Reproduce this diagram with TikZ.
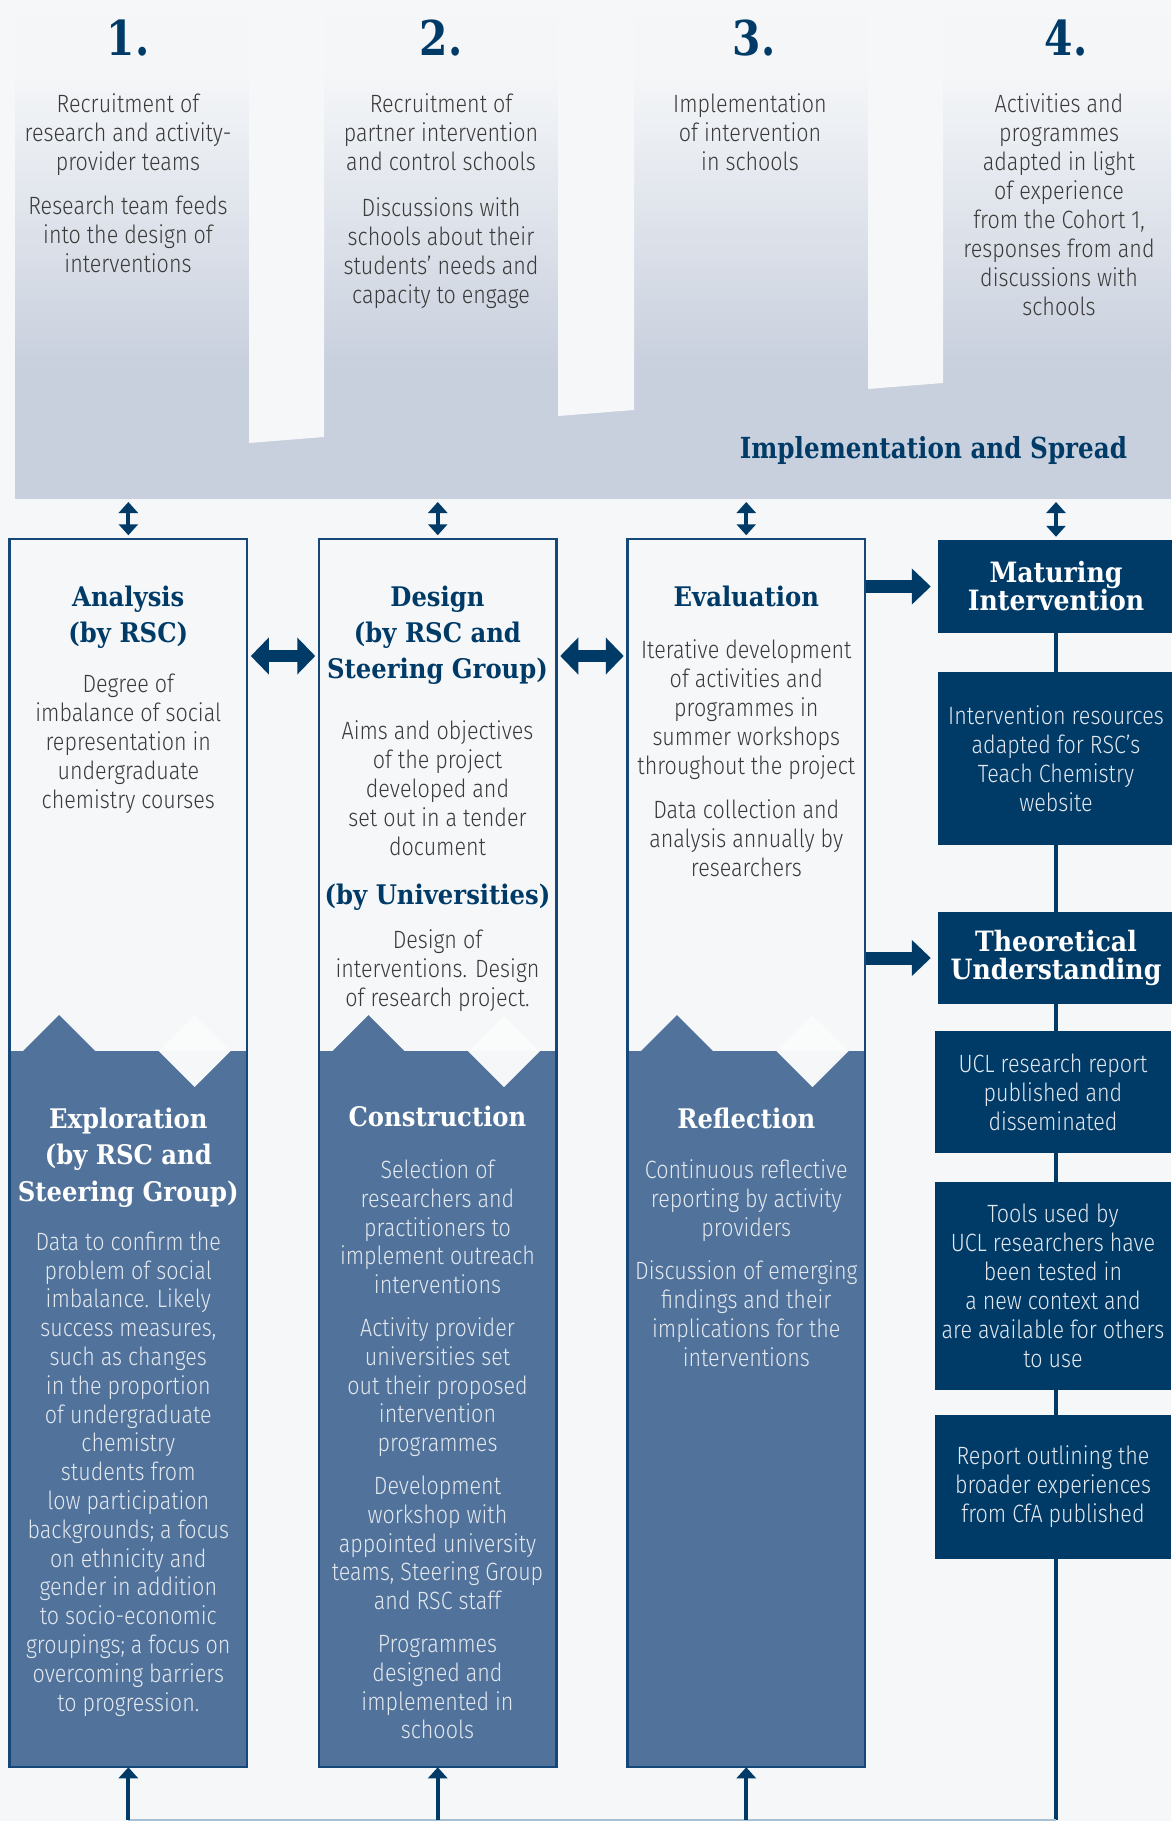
\documentclass[tikz,border=0pt]{standalone}
\usepackage{fontspec}
\usetikzlibrary{arrows.meta}
\newfontfamily\bodyf{Fira Sans Light}[FakeStretch=0.86]
\newfontfamily\headf{DejaVu Serif}[FakeStretch=0.9]
\newfontfamily\numf{DejaVu Serif}[FakeStretch=0.85]
\definecolor{bg}{HTML}{F5F7F9}
\definecolor{bgtop}{HTML}{F4F6F8}
\definecolor{band}{HTML}{C8CFDD}
\definecolor{navy}{HTML}{003B68}
\definecolor{border}{HTML}{154879}
\definecolor{midblue}{HTML}{51729A}
\definecolor{txt}{HTML}{3A3A3A}
\definecolor{lighttxt}{HTML}{E2E8EF}
\definecolor{botc}{HTML}{A9C1D5}
\definecolor{diam}{HTML}{FAFBFB}
\begin{document}
\begin{tikzpicture}[x=1pt,y=-1pt,
  bodytxt/.style={font=\bodyf\fontsize{25}{29}\selectfont, align=center, inner sep=0pt, text=txt, anchor=north},
  headtxt/.style={font=\headf\bfseries\fontsize{27}{36}\selectfont, align=center, inner sep=0pt, text=navy, anchor=north},
  colbox/.style={draw=border, line width=2.5pt, minimum width=237.5pt, minimum height=1228pt, inner sep=0pt},
  darkbox/.style={fill=navy, minimum width=236pt, inner sep=0pt, align=center, text=lighttxt, font=\bodyf\fontsize{25}{29}\selectfont},
  darkhead/.style={fill=navy, minimum width=236pt, inner sep=0pt, align=center, text=white, font=\headf\bfseries\fontsize{28}{28}\selectfont},
  smallarr/.style={draw=navy, line width=4pt, {Triangle[width=19pt,length=11pt]}-{Triangle[width=19pt,length=11pt]}},
  fatdbl/.style={draw=navy, line width=12.5pt, {Triangle[width=36pt,length=18pt]}-{Triangle[width=36pt,length=18pt]}},
  fatright/.style={draw=navy, line width=13pt, -{Triangle[width=35pt,length=19pt]}},
  uparr/.style={draw=navy, line width=4pt, -{Triangle[width=19pt,length=11pt]}},
  vline/.style={draw=navy, line width=4pt},
  botline/.style={draw=botc, line width=2pt}
]
\useasboundingbox (0,0) rectangle (1171,1821);
\fill[bg] (0,0) rectangle (1171,1821);
% top band
\fill[bgtop] (15,17) rectangle (1171,76);
\shade[top color=bgtop, bottom color=band] (15,75) rectangle (1171,371);
\fill[band] (15,370) rectangle (1171,499);
\fill[bg] (249,16) -- (324,16) -- (324,437) -- (249,443) -- cycle;
\fill[bg] (558,16) -- (634,16) -- (634,410) -- (558,416) -- cycle;
\fill[bg] (868,16) -- (943,16) -- (943,383) -- (868,389) -- cycle;
\coordinate (bandbot) at (0,499);
\coordinate (bot) at (0,1820);

\node[headtxt, font=\numf\bfseries\fontsize{48}{50}\selectfont] (n1) at (128,19.5) {1.};
\node[headtxt, font=\numf\bfseries\fontsize{48}{50}\selectfont] (n2) at (441,19.5) {2.};
\node[headtxt, font=\numf\bfseries\fontsize{48}{50}\selectfont] (n3) at (754,19.5) {3.};
\node[headtxt, font=\numf\bfseries\fontsize{48}{50}\selectfont] (n4) at (1066,19.5) {4.};

\node[bodytxt] (t1) at (128,93.5) {Recruitment of\\research and activity-\\provider teams\\[15pt]Research team feeds\\into the design of\\interventions};
\node[bodytxt] (t2) at (441,93.5) {Recruitment of\\partner intervention\\and control schools\\[17pt]Discussions with\\schools about their\\students’ needs and\\capacity to engage};
\node[bodytxt] (t3) at (750,93.5) {Implementation\\of intervention\\in schools};
\node[bodytxt] (t4) at (1059,93.5) {Activities and\\programmes\\adapted in light\\of experience\\from the Cohort 1,\\responses from and\\discussions with\\schools};
\node[headtxt, font=\numf\bfseries\fontsize{29}{32}\selectfont] (impl) at (933.5,436) {Implementation and Spread};

% column boxes: lower dark parts
\foreach \L in {9.6,319,627.5}{
  \fill[midblue] (\L,1051) rectangle (\L+237.5,1767);
  \fill[midblue] (\L+13.5,1051) -- (\L+49.5,1015) -- (\L+85.5,1051) -- cycle;
  \fill[diam] (\L+149,1051) -- (\L+185,1015) -- (\L+221,1051) -- cycle;
  \fill[bg] (\L+149,1051) -- (\L+221,1051) -- (\L+185,1087) -- cycle;
}
\node[colbox] (b1) at (128.35,1153) {};
\node[colbox] (b2) at (437.75,1153) {};
\node[colbox] (b3) at (746.25,1153) {};

% upper texts
\node[headtxt] (h1) at (128.3,585.5) {Analysis\\(by RSC)};
\node[bodytxt] (p1) at (128.3,673.5) {Degree of\\imbalance of social\\representation in\\undergraduate\\chemistry courses};
\node[headtxt] (h2) at (437.5,585.5) {Design\\(by RSC and\\Steering Group)};
\node[bodytxt] (p2) at (437.5,720.5) {Aims and objectives\\of the project\\developed and\\set out in a tender\\document};
\node[headtxt] (h2b) at (437.5,883.5) {(by Universities)};
\node[bodytxt] (p2b) at (437.5,929.5) {Design of\\interventions. Design\\of research project.};
\node[headtxt] (h3) at (746.3,585.5) {Evaluation};
\node[bodytxt] (p3) at (746.3,639.5) {Iterative development\\of activities and\\programmes in\\summer workshops\\throughout the project\\[15pt]Data collection and\\analysis annually by\\researchers};

% lower texts
\node[headtxt, text=white, font=\headf\bfseries\fontsize{27}{36.5}\selectfont] (h4) at (128.3,1107.5) {Exploration\\(by RSC and\\Steering Group)};
\node[bodytxt, text=lighttxt, font=\bodyf\fontsize{25}{28.8}\selectfont] (p4) at (128.3,1231.5) {Data to confirm the\\problem of social\\imbalance. Likely\\success measures,\\such as changes\\in the proportion\\of undergraduate\\chemistry\\students from\\low participation\\backgrounds; a focus\\on ethnicity and\\gender in addition\\to socio-economic\\groupings; a focus on\\overcoming barriers\\to progression.};
\node[headtxt, text=white] (h5) at (437.5,1105.5) {Construction};
\node[bodytxt, text=lighttxt, font=\bodyf\fontsize{25}{28.8}\selectfont] (p5) at (437.5,1159.5) {Selection of\\researchers and\\practitioners to\\implement outreach\\interventions\\[14pt]Activity provider\\universities set\\out their proposed\\intervention\\programmes\\[14pt]Development\\workshop with\\appointed university\\teams, Steering Group\\and RSC staff\\[14pt]Programmes\\designed and\\implemented in\\schools};
\node[headtxt, text=white] (h6) at (746.3,1107.5) {Reflection};
\node[bodytxt, text=lighttxt, font=\bodyf\fontsize{25}{28.8}\selectfont] (p6) at (746.3,1159.5) {Continuous reflective\\reporting by activity\\providers\\[15pt]Discussion of emerging\\findings and their\\implications for the\\interventions};

% right column boxes
\node[darkhead, minimum height=93pt] (mat) at (1056,586.5) {Maturing\\Intervention};
\node[darkbox, minimum height=173pt] (ir) at (1056,758.5) {Intervention resources\\adapted for RSC’s\\Teach Chemistry\\website};
\node[darkhead, minimum height=92pt] (th) at (1056,958) {Theoretical\\Understanding};
\node[darkbox, minimum height=122pt] (ucl) at (1053,1092) {UCL research report\\published and\\disseminated};
\node[darkbox, minimum height=208pt] (tools) at (1053,1286) {Tools used by\\UCL researchers have\\been tested in\\a new context and\\are available for others\\to use};
\node[darkbox, minimum height=144pt] (rep) at (1053,1487) {Report outlining the\\broader experiences\\from CfA published};

\draw[vline] (mat.south) -- (ir.north);
\draw[vline] (ir.south) -- (th.north);
\draw[vline] (th.south) -- (th.south |- ucl.north);
\draw[vline] (th.south |- ucl.south) -- (th.south |- tools.north);
\draw[vline] (th.south |- tools.south) -- (th.south |- rep.north);
\draw[vline] (th.south |- rep.south) -- (th.south |- bot);

% arrows
\draw[smallarr, shorten <=3pt, shorten >=2.5pt] (b1.north |- bandbot) -- (b1.north);
\draw[smallarr, shorten <=3pt, shorten >=2.5pt] (b2.north |- bandbot) -- (b2.north);
\draw[smallarr, shorten <=3pt, shorten >=2.5pt] (b3.north |- bandbot) -- (b3.north);
\draw[smallarr, shorten <=3pt, shorten >=3pt] (mat.north |- bandbot) -- (mat.north);
\coordinate (hrow) at (0,656);
\draw[fatdbl, shorten <=2.5pt, shorten >=2.5pt] (b1.east |- hrow) -- (b2.west |- hrow);
\draw[fatdbl, shorten <=2.5pt, shorten >=2.5pt] (b2.east |- hrow) -- (b3.west |- hrow);
\draw[fatright, shorten >=7pt] (b3.east |- mat.center) -- (mat.west);
\draw[fatright, shorten >=7pt] (b3.east |- th.center) -- (th.west);
\draw[botline] (b1.south |- bot) -- (mat.south |- bot);
\draw[uparr, shorten >=-1pt] (b1.south |- bot) -- (b1.south);
\draw[uparr, shorten >=-1pt] (b2.south |- bot) -- (b2.south);
\draw[uparr, shorten >=-1pt] (b3.south |- bot) -- (b3.south);
\end{tikzpicture}
\end{document}
